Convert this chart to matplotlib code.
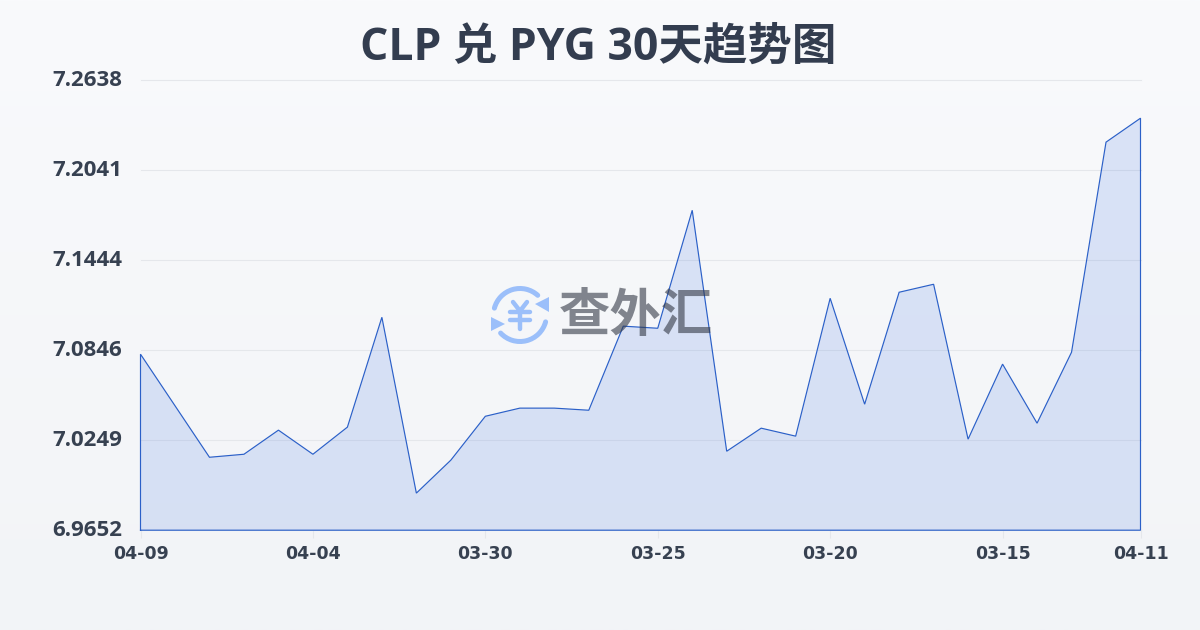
import numpy as np
import matplotlib
matplotlib.use('Agg')
import matplotlib.pyplot as plt
from matplotlib.patches import Arc, Polygon
from matplotlib.transforms import ScaledTranslation

plt.rcParams['font.family'] = ['Open Sans', 'Noto Sans CJK SC', 'DejaVu Sans']

title = 'CLP 兑 PYG 30天趋势图'
rates = [7.0820, 7.0478, 7.0136, 7.0156, 7.0316, 7.0156, 7.0336, 7.1065, 6.9898, 7.0117,
         7.0408, 7.0462, 7.0462, 7.0448, 7.1006, 7.0992, 7.1775, 7.0176, 7.0329, 7.0276,
         7.1191, 7.0488, 7.1231, 7.1284, 7.0256, 7.0754, 7.0362, 7.0833, 7.2227, 7.2386]
x_ticks = [0, 5, 10, 15, 20, 25, 29]
x_labels = ['04-09', '04-04', '03-30', '03-25', '03-20', '03-15', '04-11']
y_ticks = [6.9652, 7.0249, 7.0846, 7.1444, 7.2041, 7.2638]
y_labels = ['6.9652', '7.0249', '7.0846', '7.1444', '7.2041', '7.2638']

W, H = 1200, 630
fig = plt.figure(figsize=(W / 100, H / 100), dpi=100)

# background gradient
bg = fig.add_axes([0, 0, 1, 1], zorder=0)
c0 = np.array(matplotlib.colors.to_rgb('#f9fafc'))
c1 = np.array(matplotlib.colors.to_rgb('#f2f4f7'))
t = np.linspace(0, 1, 256)[:, None, None]
bg.imshow(c0 + (c1 - c0) * t, aspect='auto', extent=[0, 1, 0, 1])
bg.axis('off')

ax = fig.add_axes([140.5 / W, 1 - 530.2 / H, 1000 / W, 450 / H], zorder=1)
ax.patch.set_alpha(0)
x = np.arange(len(rates))
ax.fill_between(x, rates, y_ticks[0], facecolor=(0.15, 0.38, 0.88, 0.14),
                edgecolor='none', zorder=2)
ax.plot(np.r_[x[0], x, x[-1], x[0]], np.r_[y_ticks[0], rates, y_ticks[0], y_ticks[0]],
        color='#2b60c8', lw=0.85, solid_joinstyle='miter', zorder=3, clip_on=False)

ax.set_xlim(0, 29)
ax.set_ylim(y_ticks[0], y_ticks[-1])
for s in ax.spines.values():
    s.set_visible(False)
ax.set_yticks(y_ticks)
ax.set_yticklabels(y_labels, fontsize=16, fontweight='bold', color='#374151')
ax.set_xticks(x_ticks)
ax.set_xticklabels(x_labels, fontsize=12.5, fontweight='bold', color='#374151',
                   family=['DejaVu Sans'])
ax.tick_params(axis='y', length=0, pad=13)
ax.tick_params(axis='x', length=6, width=0.8, color='#e5e7eb', pad=4.5)
ax.grid(axis='y', color='#e5e7eb', lw=0.8, zorder=1, clip_on=False)
ax.set_axisbelow(True)
for lab in ax.get_yticklabels():
    lab.set_transform(lab.get_transform() + ScaledTranslation(0, 2 / 100, fig.dpi_scale_trans))

fig.text(598.5 / W, 1 - 48 / H, title, ha='center', va='center', fontsize=32,
         fontweight='bold', color='#333d4f')

# watermark, in pixel coordinates (y runs downwards)
wm = fig.add_axes([0, 0, 1, 1], zorder=3)
wm.set_xlim(0, W)
wm.set_ylim(H, 0)
wm.axis('off')
blue = '#9bbffa'
cx, cy, r = 520, 315, 26.5
wm.add_patch(Arc((cx, cy), 2 * r, 2 * r, theta1=195, theta2=312, color=blue, lw=3.6, capstyle='round'))
wm.add_patch(Arc((cx, cy), 2 * r, 2 * r, theta1=15, theta2=137, color=blue, lw=3.6, capstyle='round'))
wm.add_patch(Polygon([[549, 297], [549, 312], [535, 304]], color=blue, lw=0))
wm.add_patch(Polygon([[491, 317], [491, 331], [505, 324]], color=blue, lw=0))
for xs, ys in [([513, 520, 527], [302, 311, 302]), ([520, 520], [311, 329]),
               ([510, 530], [312, 312]), ([510, 530], [320, 320])]:
    wm.plot(xs, ys, color=blue, lw=3.2, solid_capstyle='round')
wm.text(636, 316, '查外汇', fontsize=37, fontweight='bold', color=(0.2, 0.22, 0.27, 0.6),
        ha='center', va='center', family=['Noto Sans CJK SC', 'DejaVu Sans'])

fig.savefig('out.png', dpi=100)
